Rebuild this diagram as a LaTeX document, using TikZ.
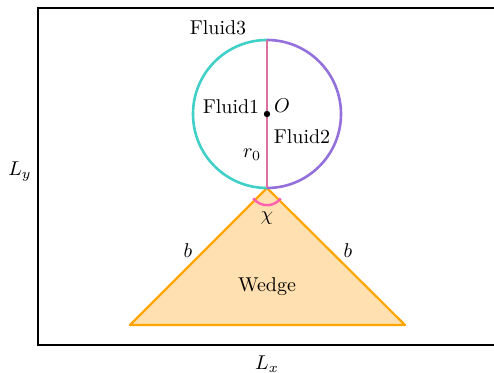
\documentclass[tikz,border=0pt]{standalone}
\usepackage{tikz}
\usetikzlibrary{calc}
\definecolor{tealc}{HTML}{40D0C8}
\definecolor{purpc}{HTML}{9370DB}
\definecolor{pinkc}{HTML}{DB70A0}
\definecolor{arcpink}{HTML}{FF60B0}
\definecolor{orangec}{HTML}{FFA500}
\definecolor{wedgefill}{HTML}{FFE0B0}
\tikzset{lbl/.style={inner sep=0pt, font=\normalsize}}
\begin{document}
\begin{tikzpicture}[x=0.5pt,y=-0.5pt]
\useasboundingbox (0,0) rectangle (494,373);
\draw[line width=0.6pt] (38,8) rectangle (510,345);
\coordinate (O) at (267,114);
\coordinate (apex) at (267,188);
\coordinate (bl) at (130,325);
\coordinate (br) at (405,325);
\draw[orangec, fill=wedgefill, line width=1.1pt, line join=round] (apex) -- (bl) -- (br) -- cycle;
\draw[tealc, line width=1.3pt] (267,40) arc[start angle=90, end angle=270, radius=37pt];
\draw[purpc, line width=1.3pt] (267,40) arc[start angle=90, end angle=-90, radius=37pt];
\draw[pinkc, line width=1.2pt] (267,40) -- (apex);
\draw[arcpink, line width=1.2pt] ($(apex)+(-143:8.6pt)$) arc[start angle=-143, end angle=-37, radius=8.6pt];
\fill (O) circle[radius=1.6pt];
\node[lbl] (f3) at (218,28) {Fluid3};
\node[lbl] (f1) at (231,107) {Fluid1};
\node[lbl] (o) at (282,106) {$O$};
\node[lbl] (f2) at (302,137) {Fluid2};
\node[lbl] (r0) at (252,155) {$r_0$};
\node[lbl] (chi) at (267,218) {$\chi$};
\node[lbl] (b1) at (188,251) {$b$};
\node[lbl] (b2) at (348,251) {$b$};
\node[lbl] (wedge) at (267,287) {Wedge};
\node[lbl] (ly) at (20,172) {$L_y$};
\node[lbl] (lx) at (267,364) {$L_x$};
\end{tikzpicture}
\end{document}
